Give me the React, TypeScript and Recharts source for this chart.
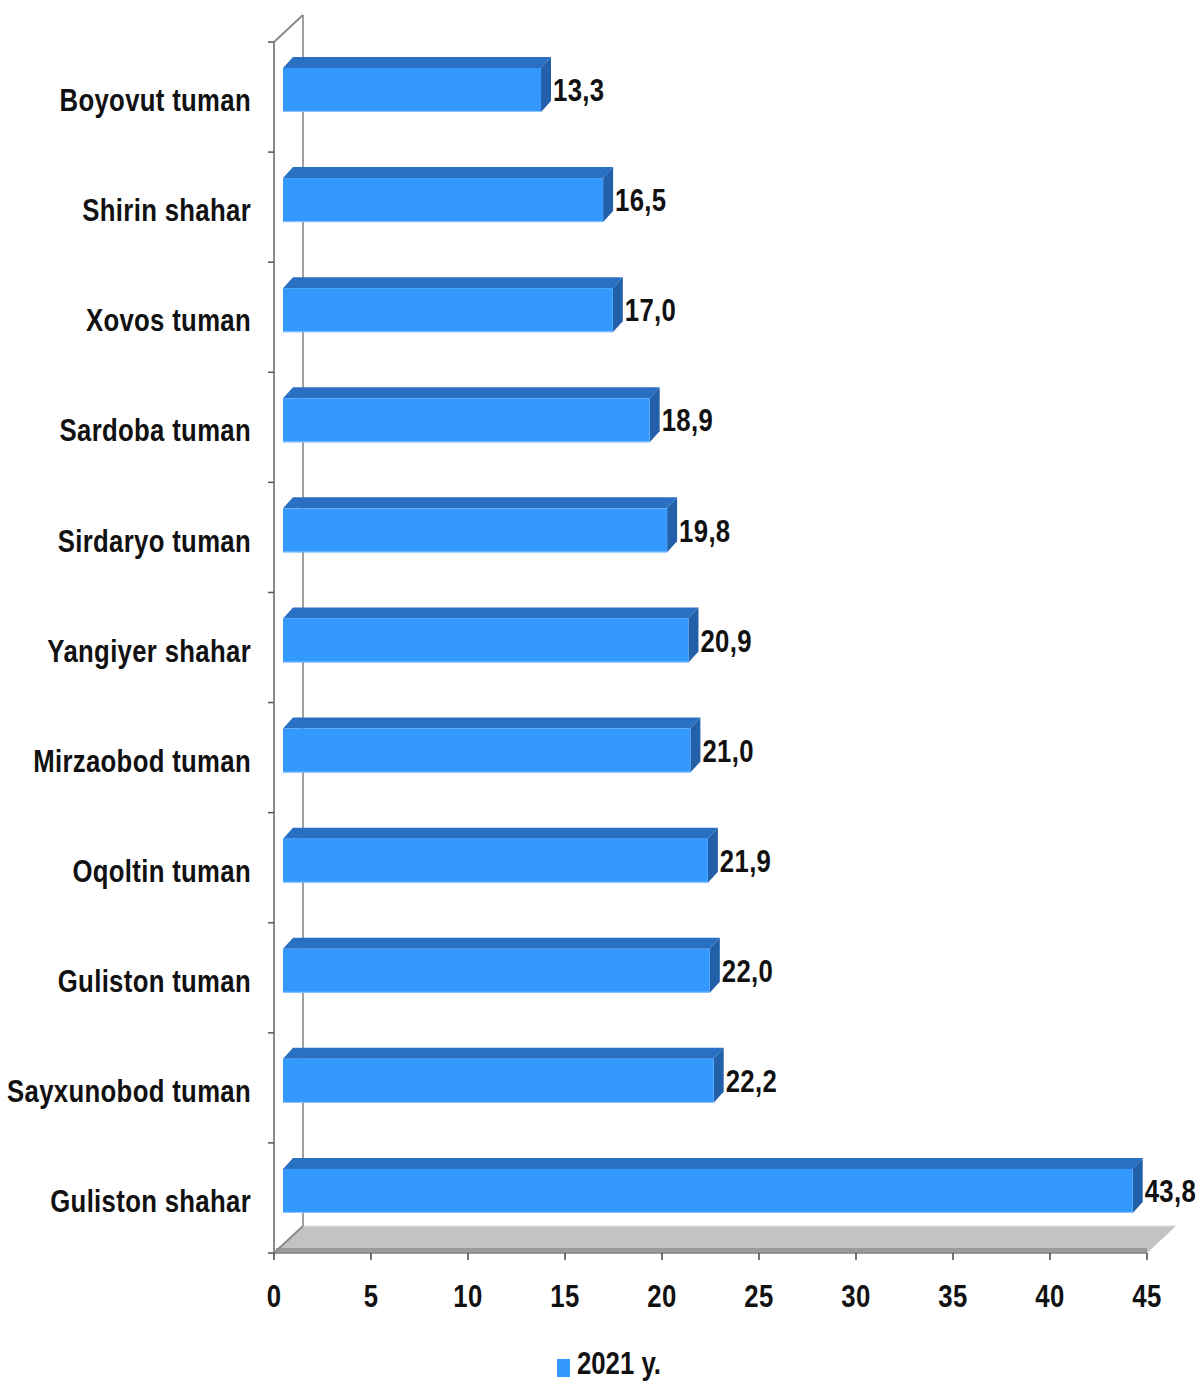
import React from 'react';
import { BarChart, Bar, XAxis, YAxis, LabelList, Customized } from 'recharts';

const categories = [
    'Boyovut tuman',
    'Shirin shahar',
    'Xovos tuman',
    'Sardoba tuman',
    'Sirdaryo tuman',
    'Yangiyer shahar',
    'Mirzaobod tuman',
    'Oqoltin tuman',
    'Guliston tuman',
    'Sayxunobod tuman',
    'Guliston shahar',
];
const values2021 = [13.3, 16.5, 17.0, 18.9, 19.8, 20.9, 21.0, 21.9, 22.0, 22.2, 43.8];
const xTicks = [0, 5, 10, 15, 20, 25, 30, 35, 40, 45];
const seriesName = '2021 y.';

const data = categories.map((name, i) => ({ name, value: values2021[i] }));

// chart geometry (front plane of the 3d box)
const W = 1200;
const H = 1382;
const LEFT = 274;
const RIGHT = 1147;
const TOP = 42;
const BOTTOM = 1253;
const DEPTH_X = 29;
const DEPTH_Y = 27;
const HALF_BAND = (BOTTOM - TOP) / categories.length / 2;

// bar sits a bit behind the front plane
const BAR_DX = 9;
const BAR_DY = -7;
const BAR_SIZE = 44;
const CAP_X = 10;
const CAP_Y = 11;

// no Arial Narrow here, so squeeze Liberation Sans like Narrow does
const FONT = "'Liberation Sans', Arial, sans-serif";
const NARROW = 0.83;
const FS = 31;
const COL_FRONT = '#3399FF';
const COL_TOP = '#2A70C2';
const COL_SIDE = '#2360AA';

const fmt = (v: number) => v.toFixed(1).replace('.', ',');

const NarrowText = ({ x, y, anchor = 'start', children }: any) => (
    <text
        transform={`translate(${x},${y}) scale(${NARROW},1)`}
        x={0}
        y={0}
        dy="0.36em"
        textAnchor={anchor}
        fontFamily={FONT}
        fontWeight="bold"
        fontSize={FS}
        letterSpacing={0.4}
        fill="#111"
    >
        {children}
    </text>
);

const Bar3D = (props: any) => {
    const { x, y, width, height } = props;
    const fx = x + BAR_DX;
    const fy = y + BAR_DY;
    const w = width;
    const h = height;
    return (
        <g>
            <polygon
                points={`${fx},${fy} ${fx + CAP_X},${fy - CAP_Y} ${fx + w + CAP_X},${fy - CAP_Y} ${fx + w},${fy}`}
                fill={COL_TOP}
            />
            <polygon
                points={`${fx + w},${fy} ${fx + w + CAP_X},${fy - CAP_Y} ${fx + w + CAP_X},${fy + h - CAP_Y} ${fx + w},${fy + h}`}
                fill={COL_SIDE}
            />
            <rect x={fx} y={fy} width={w} height={h} fill={COL_FRONT} />
            <line x1={fx} x2={fx + w} y1={fy + h - 0.5} y2={fy + h - 0.5} stroke="#8fc4ff" strokeWidth={1} />
        </g>
    );
};

const ValueLabel = (props: any) => {
    const { x, y, width, height, value } = props;
    const lx = x + BAR_DX + width + CAP_X + 2;
    const ly = y + BAR_DY + height / 2;
    return <NarrowText x={lx} y={ly}>{fmt(value)}</NarrowText>;
};

const CategoryTick = (props: any) => {
    const { y, payload, index } = props;
    const ax = LEFT;
    return (
        <g>
            <NarrowText x={ax - 23} y={y + 3} anchor="end">{payload.value}</NarrowText>
            <line x1={ax - 6} x2={ax} y1={y - HALF_BAND} y2={y - HALF_BAND} stroke="#555" strokeWidth={1.5} />
            {index === categories.length - 1 && (
                <line x1={ax - 6} x2={ax} y1={y + HALF_BAND} y2={y + HALF_BAND} stroke="#555" strokeWidth={1.5} />
            )}
        </g>
    );
};

const ValueTick = (props: any) => {
    const { x, y, payload } = props;
    return <NarrowText x={x} y={y + 34} anchor="middle">{payload.value}</NarrowText>;
};

const Box3D = () => (
    <g>
        {/* floor */}
        <polygon
            points={`${LEFT},${BOTTOM} ${LEFT + DEPTH_X},${BOTTOM - DEPTH_Y} ${RIGHT + DEPTH_X},${BOTTOM - DEPTH_Y} ${RIGHT},${BOTTOM}`}
            fill="#C3C3C3"
        />
        <line x1={LEFT + 2} x2={RIGHT} y1={BOTTOM - 3} y2={BOTTOM - 3} stroke="#9a9a9a" strokeWidth={4} />
        <line x1={LEFT + DEPTH_X} x2={RIGHT + DEPTH_X} y1={BOTTOM - DEPTH_Y} y2={BOTTOM - DEPTH_Y} stroke="#dcdcdc" strokeWidth={1} />
        {/* back wall edge */}
        <line x1={LEFT + DEPTH_X} x2={LEFT + DEPTH_X} y1={TOP - DEPTH_Y} y2={BOTTOM - DEPTH_Y} stroke="#a0a0a0" strokeWidth={2} />
        <line x1={LEFT} x2={LEFT + DEPTH_X} y1={TOP} y2={TOP - DEPTH_Y} stroke="#8a8a8a" strokeWidth={2} />
        <line x1={LEFT} x2={LEFT + DEPTH_X} y1={BOTTOM} y2={BOTTOM - DEPTH_Y} stroke="#8a8a8a" strokeWidth={2} />
    </g>
);

export default function App() {
    return (
        <div style={{ position: 'absolute', left: 0, top: 0, width: W, height: H, background: '#fff', overflow: 'hidden' }}>
            <BarChart
                width={W}
                height={H}
                data={data}
                layout="vertical"
                margin={{ top: TOP, right: W - RIGHT, bottom: H - BOTTOM - 40, left: 0 }}
            >
                <Customized component={<Box3D />} />
                <XAxis
                    type="number"
                    domain={[0, 45]}
                    ticks={xTicks}
                    interval={0}
                    height={40}
                    axisLine={{ stroke: '#7a7a7a', strokeWidth: 1.5 }}
                    tickLine={{ stroke: '#444', strokeWidth: 1.5 }}
                    tickSize={7}
                    tick={<ValueTick />}
                />
                <YAxis
                    type="category"
                    dataKey="name"
                    width={LEFT}
                    interval={0}
                    axisLine={{ stroke: '#8a8a8a', strokeWidth: 2 }}
                    tickLine={false}
                    tickSize={0}
                    tick={<CategoryTick />}
                />
                <Bar dataKey="value" name={seriesName} barSize={BAR_SIZE} shape={<Bar3D />} isAnimationActive={false}>
                    <LabelList dataKey="value" content={<ValueLabel />} />
                </Bar>
            </BarChart>
            <div
                style={{
                    position: 'absolute',
                    left: 557,
                    top: 1346,
                    display: 'flex',
                    alignItems: 'center',
                    fontFamily: FONT,
                    fontWeight: 'bold',
                    fontSize: FS,
                    color: '#111',
                }}
            >
                <span style={{ width: 13, height: 18, background: COL_FRONT, display: 'inline-block', marginRight: 7, marginTop: 8 }} />
                <span style={{ display: 'inline-block', transform: `scaleX(${NARROW})`, transformOrigin: 'left center' }}>
                    {seriesName}
                </span>
            </div>
        </div>
    );
}
